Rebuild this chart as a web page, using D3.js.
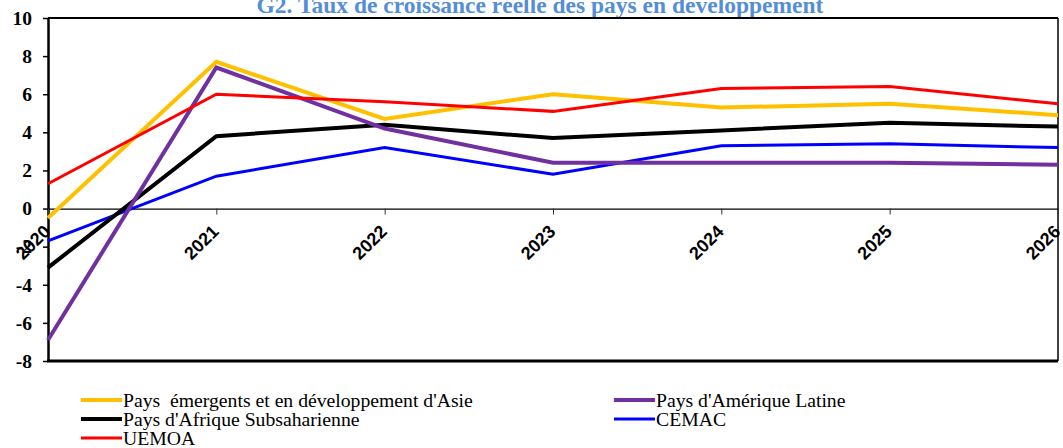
<!DOCTYPE html>
<html>
<head>
<meta charset="utf-8">
<script src="https://cdn.jsdelivr.net/npm/d3@7"></script>
<style>
  body { margin: 0; background: #fff; }
  svg { display: block; }
</style>
</head>
<body>
<div id="chart"></div>
<script>
var years = ["2020", "2021", "2022", "2023", "2024", "2025", "2026"];
var yTicks = [-8, -6, -4, -2, 0, 2, 4, 6, 8, 10];

var asie = [-0.5, 7.7, 4.7, 6.0, 5.3, 5.5, 4.9];
var ameriqueLatine = [-6.9, 7.4, 4.2, 2.4, 2.4, 2.4, 2.3];
var afriqueSS = [-3.1, 3.8, 4.4, 3.7, 4.1, 4.5, 4.3];
var cemac = [-1.7, 1.7, 3.2, 1.8, 3.3, 3.4, 3.2];
var uemoa = [1.3, 6.0, 5.6, 5.1, 6.3, 6.4, 5.5];

var seriesNames = [
    "Pays  émergents et en développement d'Asie",
    "Pays d'Amérique Latine",
    "Pays d'Afrique Subsaharienne",
    "CEMAC",
    "UEMOA"
];

var series = [
    { name: seriesNames[0], values: asie, colour: "#FFC000", width: 4 },
    { name: seriesNames[1], values: ameriqueLatine, colour: "#7030A0", width: 4 },
    { name: seriesNames[2], values: afriqueSS, colour: "#000000", width: 4 },
    { name: seriesNames[3], values: cemac, colour: "#0000FF", width: 3 },
    { name: seriesNames[4], values: uemoa, colour: "#FF0000", width: 3 }
];

var W = 1063, H = 448;
var plot = { left: 48, right: 1058, top: 18, bottom: 361 };
var serif = "'Liberation Serif', 'Times New Roman', Times, serif";
var sans = "'Liberation Sans', Arial, sans-serif";

var svg = d3.select("#chart").append("svg")
    .attr("width", W)
    .attr("height", H);

var x = d3.scalePoint()
    .domain(years)
    .range([plot.left, plot.right]);

var y = d3.scaleLinear()
    .domain([-8, 10])
    .range([plot.bottom, plot.top]);

// title (cut at the top in the original too)
svg.append("text")
    .attr("x", 540)
    .attr("y", 13)
    .attr("text-anchor", "middle")
    .style("font-family", serif)
    .style("font-weight", "bold")
    .style("font-size", "23.5px")
    .style("fill", "#558ED5")
    .text("G2. Taux de croissance réelle des pays en développement");

// frame
svg.append("line")
    .attr("x1", plot.left).attr("x2", plot.right)
    .attr("y1", plot.top).attr("y2", plot.top)
    .attr("stroke", "#000").attr("stroke-width", 2);
svg.append("line")
    .attr("x1", plot.right).attr("x2", plot.right)
    .attr("y1", plot.top).attr("y2", plot.bottom)
    .attr("stroke", "#000").attr("stroke-width", 1.5);

// y axis
var yAxis = svg.append("g")
    .attr("transform", "translate(" + plot.left + ",0)")
    .call(d3.axisLeft(y).tickValues(yTicks).tickSize(5).tickSizeOuter(0)
        .tickFormat(function(d) { return String(d); }));
yAxis.select(".domain").attr("stroke-width", 2.5);
yAxis.selectAll(".tick line").attr("stroke-width", 1.5);
yAxis.selectAll(".tick text")
    .attr("x", -16)
    .style("font-family", serif)
    .style("font-weight", "bold")
    .style("font-size", "19.5px")
    .style("fill", "#000");

// bottom border at -8
svg.append("line")
    .attr("x1", plot.left - 1).attr("x2", plot.right)
    .attr("y1", plot.bottom).attr("y2", plot.bottom)
    .attr("stroke", "#000").attr("stroke-width", 3);

// x axis on the zero line
var xAxis = svg.append("g")
    .attr("transform", "translate(0," + y(0) + ")")
    .call(d3.axisBottom(x).tickSize(6).tickSizeOuter(0));
xAxis.select(".domain").attr("stroke-width", 1.2);
xAxis.selectAll(".tick line").attr("stroke", "#333");
xAxis.selectAll(".tick text")
    .attr("text-anchor", "end")
    .attr("x", 0).attr("y", 0).attr("dy", 0)
    .attr("transform", "translate(3,24) rotate(-45)")
    .style("font-family", sans)
    .style("font-weight", "bold")
    .style("font-size", "18px")
    .style("fill", "#000");

// lines
var line = d3.line()
    .x(function(d, i) { return x(years[i]); })
    .y(function(d) { return y(d); });

var order = [3, 2, 1, 0, 4];
svg.append("g").selectAll("path")
    .data(order.map(function(i) { return series[i]; }))
    .enter().append("path")
    .attr("d", function(d) { return line(d.values); })
    .attr("fill", "none")
    .attr("stroke", function(d) { return d.colour; })
    .attr("stroke-width", function(d) { return d.width; })
    .attr("stroke-linejoin", "miter");

// legend
var legendPos = [
    { x: 81, y: 400 },
    { x: 614, y: 400 },
    { x: 81, y: 419 },
    { x: 614, y: 419 },
    { x: 81, y: 438 }
];

var legend = svg.append("g").selectAll("g")
    .data(series)
    .enter().append("g")
    .attr("transform", function(d, i) { return "translate(" + legendPos[i].x + "," + legendPos[i].y + ")"; });

legend.append("line")
    .attr("x1", 0).attr("x2", 41)
    .attr("y1", 0).attr("y2", 0)
    .attr("stroke", function(d) { return d.colour; })
    .attr("stroke-width", function(d) { return d.width; });

legend.append("text")
    .attr("x", 42)
    .attr("y", 0)
    .attr("dy", "0.33em")
    .style("white-space", "pre")
    .style("font-family", serif)
    .style("font-size", "19.7px")
    .style("fill", "#000")
    .text(function(d) { return d.name; });
</script>
</body>
</html>
